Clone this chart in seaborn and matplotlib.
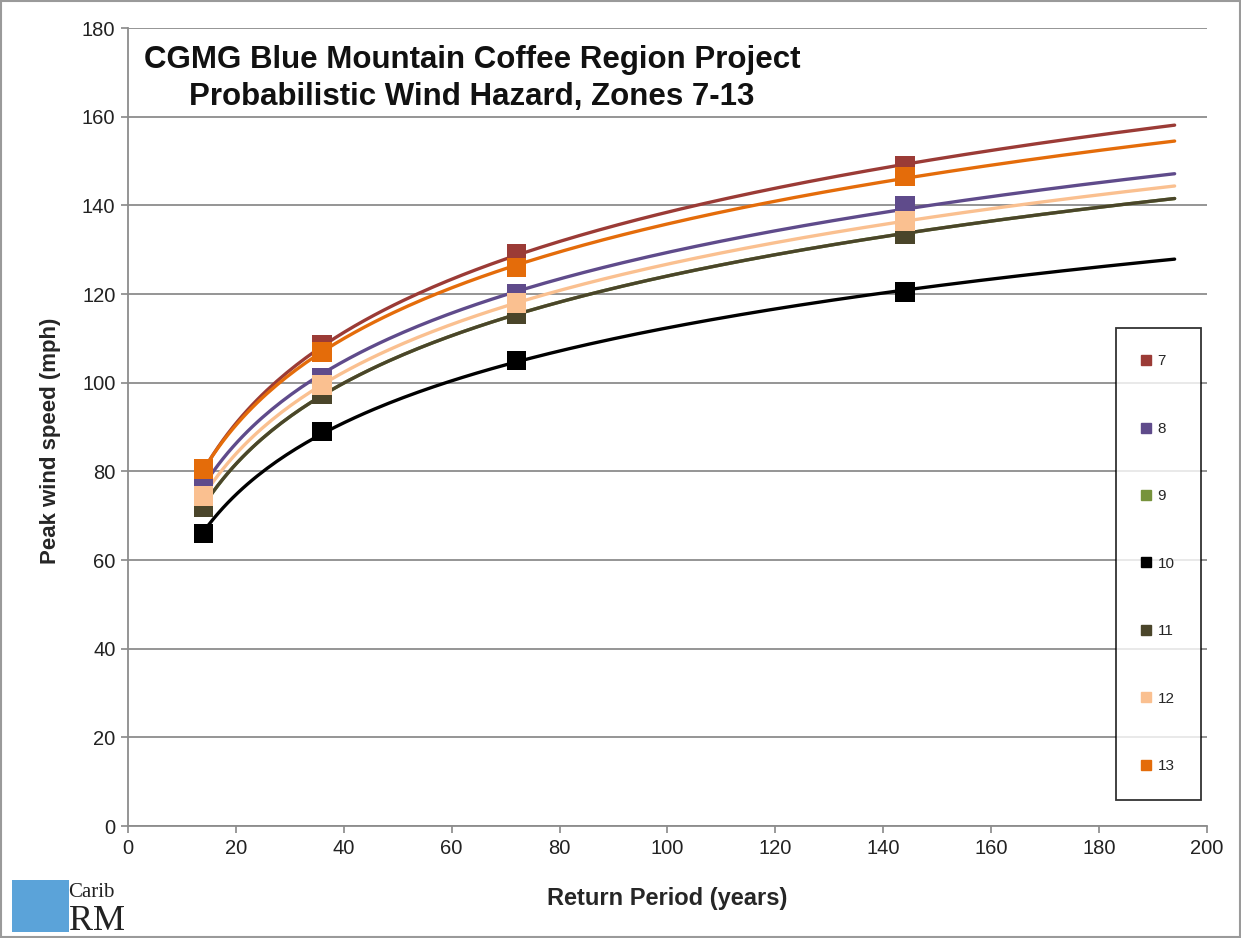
import numpy as np
import pandas as pd
import seaborn as sns
import matplotlib.pyplot as plt
from matplotlib.lines import Line2D
from matplotlib.patches import Rectangle

sns.set_theme(style="white")
plt.rcParams["font.family"] = ["Liberation Sans", "DejaVu Sans"]

# return periods (years) where the model points sit
return_period = [14, 36, 72, 144]
zones = ["7", "8", "9", "10", "11", "12", "13"]

# peak wind speed (mph), one list per zone
zone7 = [80, 108.5, 129, 149]
zone8 = [77.5, 101, 120, 140]
zone9 = [72, 97.5, 115.5, 133.5]
zone10 = [66, 89, 105, 120.5]
zone11 = [72, 97.5, 115.5, 133.5]
zone12 = [74.5, 99.5, 118, 136.5]
zone13 = [80.5, 107, 126, 146.5]

colors = ["#9B3B36", "#5F4B8B", "#77933C", "#000000", "#4A452A", "#FAC090", "#E46C0A"]

series = [zone7, zone8, zone9, zone10, zone11, zone12, zone13]
points = pd.DataFrame(
    [(z, x, y) for z, vals in zip(zones, series) for x, y in zip(return_period, vals)],
    columns=["zone", "period", "speed"],
)

# logarithmic trendlines, like the spreadsheet fit
x_fit = np.linspace(14, 194, 200)
fits = []
for z, vals in zip(zones, series):
    b, a = np.polyfit(np.log(return_period), vals, 1)
    fits.append(pd.DataFrame({"zone": z, "period": x_fit, "speed": a + b * np.log(x_fit)}))
curves = pd.concat(fits, ignore_index=True)

palette = dict(zip(zones, colors))

fig = plt.figure(figsize=(12.41, 9.38), dpi=100)
ax = fig.add_axes([0.1031, 0.1194, 0.8695, 0.8506])

for z in zones:
    sns.lineplot(data=curves[curves.zone == z], x="period", y="speed",
                 color=palette[z], lw=2.4, ax=ax, legend=False, zorder=2)
    sns.scatterplot(data=points[points.zone == z], x="period", y="speed",
                    color=palette[z], marker="s", s=200, edgecolor="none",
                    ax=ax, legend=False, zorder=3)

ax.set_xlim(0, 200)
ax.set_ylim(0, 180)
ax.set_xticks(range(0, 201, 20))
ax.set_yticks(range(0, 181, 20))
ax.yaxis.grid(True, color="#8c8c8c", lw=1.3)
ax.set_axisbelow(True)
for s in ["top", "right"]:
    ax.spines[s].set_visible(False)
for s in ["left", "bottom"]:
    ax.spines[s].set_color("#8c8c8c")
    ax.spines[s].set_linewidth(1.3)
ax.tick_params(axis="both", labelsize=14.5, length=5, color="#8c8c8c", direction="out",
               left=True, bottom=True, pad=4, labelcolor="#222222")
ax.set_xlabel("Return Period (years)", fontsize=17, fontweight="bold")
ax.set_ylabel("Peak wind speed (mph)", fontsize=16, fontweight="bold")
ax.xaxis.set_label_coords(0.4995, -0.077)
ax.yaxis.set_label_coords(-0.062, 0.4825)

ax.text(0.319, 0.979, "CGMG Blue Mountain Coffee Region Project\nProbabilistic Wind Hazard, Zones 7-13",
        transform=ax.transAxes, ha="center", va="top", fontsize=22.5, fontweight="bold",
        linespacing=1.32, color="#111111")

handles = [Line2D([], [], marker="s", color=c, ls="none", markersize=7.5) for c in colors]
leg = ax.legend(handles, zones, loc="upper left", bbox_to_anchor=(0.916, 0.624),
                fontsize=11, labelspacing=3.5, handletextpad=0.48, borderpad=1.72,
                frameon=True, fancybox=False, handlelength=0.5, borderaxespad=0)
leg.get_frame().set_edgecolor("black")
leg.get_frame().set_linewidth(1.3)

# CaribRM logo, rendered as text
fig.patches.append(Rectangle((0.010, 0.006), 0.046, 0.056, transform=fig.transFigure,
                             facecolor="#5BA3D9", edgecolor="none"))
fig.text(0.055, 0.044, "Carib", fontsize=15, family="Liberation Serif", color="#222222")
fig.text(0.056, 0.009, "RM", fontsize=26, family="Liberation Serif", color="#222222")

fig.patches.append(Rectangle((0.001, 0.001), 0.998, 0.998, transform=fig.transFigure,
                             facecolor="none", edgecolor="#9a9a9a", lw=1.5))

fig.savefig("out.png", dpi=100)
